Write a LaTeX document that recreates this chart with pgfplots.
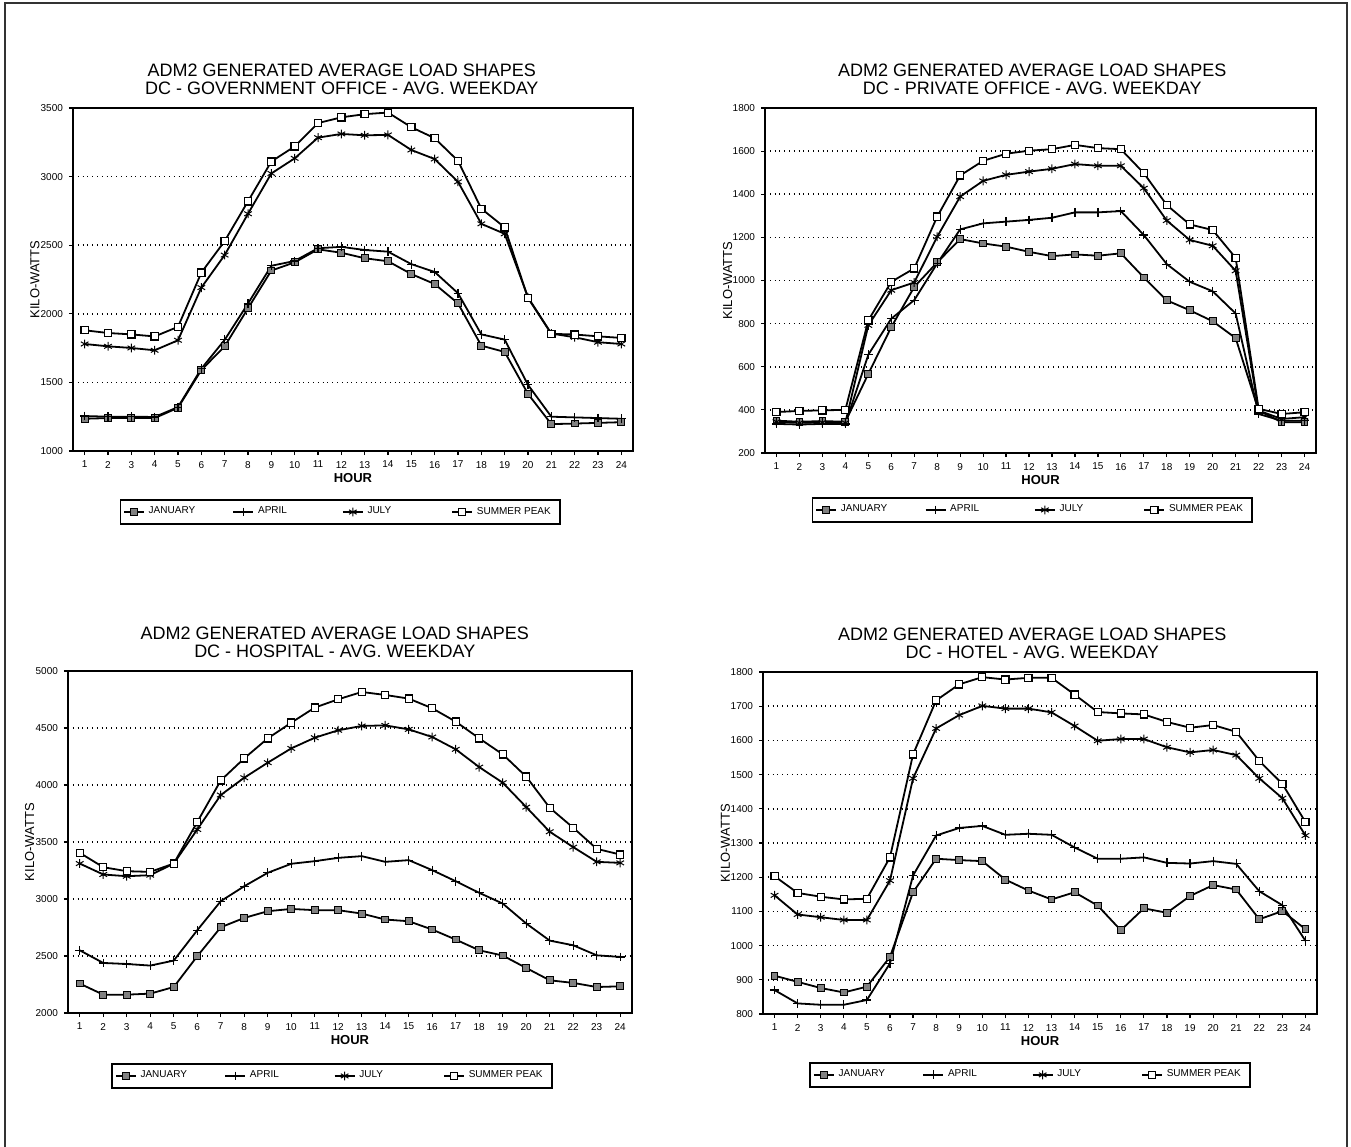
\documentclass[border=0pt]{standalone}
\usepackage{fontspec}
\setmainfont{Liberation Sans}
\usepackage{pgfplots}
\usepackage{pgfplotstable}
\pgfplotsset{compat=1.18}

\pgfplotstableread{
h jan apr jul sum
1 1235 1255 1780 1880
2 1240 1250 1763 1860
3 1240 1250 1751 1850
4 1240 1248 1734 1835
5 1315 1320 1807 1905
6 1590 1600 2191 2300
7 1763 1810 2428 2530
8 2040 2075 2729 2820
9 2315 2350 3023 3110
10 2375 2385 3133 3220
11 2470 2478 3284 3390
12 2445 2488 3311 3432
13 2405 2465 3301 3455
14 2383 2453 3304 3467
15 2290 2362 3194 3360
16 2217 2305 3128 3280
17 2076 2150 2962 3115
18 1768 1850 2656 2766
19 1722 1812 2583 2630
20 1416 1482 2120 2115
21 1196 1250 1856 1854
22 1200 1245 1829 1849
23 1205 1240 1793 1836
24 1210 1235 1780 1824
}\govt

\pgfplotstableread{
h jan apr jul sum
1 350 335 345 390
2 345 332 340 395
3 348 335 342 398
4 345 335 340 400
5 567 656 792 815
6 784 823 955 994
7 970 909 991 1056
8 1084 1079 1203 1296
9 1192 1237 1389 1487
10 1172 1265 1462 1555
11 1157 1273 1490 1588
12 1133 1281 1505 1602
13 1113 1291 1518 1609
14 1121 1316 1540 1629
15 1115 1316 1532 1614
16 1126 1322 1532 1609
17 1014 1211 1428 1498
18 908 1076 1278 1350
19 862 994 1188 1260
20 811 950 1161 1234
21 733 847 1045 1105
22 397 381 397 405
23 343 350 358 381
24 343 350 366 389
}\priv

\pgfplotstableread{
h jan apr jul sum
1 2258 2550 3311 3405
2 2161 2439 3215 3279
3 2161 2430 3200 3244
4 2170 2416 3209 3238
5 2228 2460 3311 3311
6 2498 2726 3610 3675
7 2752 2981 3912 4040
8 2834 3112 4064 4234
9 2893 3230 4196 4409
10 2913 3309 4321 4547
11 2902 3332 4415 4679
12 2902 3361 4480 4752
13 2872 3376 4518 4816
14 2820 3326 4523 4790
15 2805 3341 4488 4758
16 2732 3253 4421 4673
17 2644 3156 4313 4556
18 2550 3054 4157 4409
19 2504 2960 4020 4269
20 2395 2785 3806 4073
21 2287 2635 3590 3800
22 2264 2594 3455 3625
23 2228 2506 3326 3440
24 2234 2492 3317 3390
}\hosp

\pgfplotstableread{
h jan apr jul sum
1 912 870 1147 1203
2 894 831 1091 1154
3 876 827 1083 1143
4 863 827 1075 1135
5 880 841 1075 1137
6 967 948 1190 1258
7 1156 1205 1489 1559
8 1254 1322 1635 1717
9 1250 1344 1674 1764
10 1247 1350 1701 1785
11 1193 1324 1693 1778
12 1161 1327 1693 1783
13 1135 1324 1682 1783
14 1156 1287 1642 1734
15 1117 1254 1599 1683
16 1045 1254 1604 1679
17 1109 1258 1604 1676
18 1096 1242 1580 1654
19 1145 1240 1565 1637
20 1177 1247 1572 1645
21 1164 1239 1557 1625
22 1077 1159 1489 1540
23 1101 1118 1431 1473
24 1048 1014 1322 1361
}\hotel

\pgfplotsset{
  loadaxis/.style={
    scale only axis,
    xmin=0.5, xmax=24.5,
    xtick={1,...,24},
    xtick pos=left, ytick pos=left,
    tick align=outside,
    major tick length=2pt,
    tick style={black, line width=0.6pt},
    axis line style={line width=0.9pt},
    ymajorgrids,
    grid style={dotted, line width=0.8pt, black},
    /pgf/number format/assume math mode=true,
    /pgf/number format/1000 sep={},
    tick label style={font=\fontsize{5}{6}\selectfont},
    xticklabel style={yshift=0.5pt},
    yticklabel style={xshift=0.5pt},
    xlabel={HOUR},
    ylabel={KILO-WATTS},
    xlabel style={font=\fontsize{6.5}{7}\selectfont\bfseries, at={(axis description cs:0.5,0)}, anchor=center, yshift=-13.5pt},
    ylabel style={font=\fontsize{6.5}{7}\selectfont, at={(axis description cs:-0.068,0.5)}, anchor=center},
    title style={align=center, font=\fontsize{9}{9.2}\selectfont, anchor=south, inner sep=0pt, yshift=0.5pt},
    legend columns=4,
    legend style={draw=black, line width=0.8pt, font=\fontsize{5}{6}\selectfont, inner sep=1.5pt,
      anchor=center, /tikz/every even column/.append style={column sep=2pt}},
    legend image code/.code={\draw[mark repeat=2,mark phase=2,line width=0.7pt] plot coordinates {(0pt,0pt) (5pt,0pt) (10pt,0pt)};},
  },
  janst/.style={black, line width=0.9pt, mark=square*, mark size=1.7pt, mark options={fill=gray, draw=black, line width=0.5pt, solid}},
  aprst/.style={black, line width=0.9pt, mark=+, mark size=2.2pt, mark options={line width=0.6pt, solid}},
  julst/.style={black, line width=0.9pt, mark=asterisk, mark size=2.2pt, mark options={line width=0.5pt, solid}},
  sumst/.style={black, line width=0.9pt, mark=square*, mark size=1.8pt, mark options={fill=white, draw=black, line width=0.6pt, solid}},
}

\newcommand{\allplots}[1]{%
  \addplot[janst] table[x=h,y=jan]{#1};
  \addlegendentry{\makebox[38pt][l]{JANUARY}}
  \addplot[aprst] table[x=h,y=apr]{#1};
  \addlegendentry{\makebox[38pt][l]{APRIL}}
  \addplot[julst] table[x=h,y=jul]{#1};
  \addlegendentry{\makebox[38pt][l]{JULY}}
  \addplot[sumst] table[x=h,y=sum]{#1};
  \addlegendentry{\makebox[38pt][l]{SUMMER PEAK}}
}

\begin{document}
\begin{tikzpicture}
\useasboundingbox (0,0) rectangle (675.5pt,-573.5pt);
\draw[line width=1pt, black!80] (2.5pt,-573.5pt) -- (2.5pt,-1.5pt) -- (673.5pt,-1.5pt) -- (673.5pt,-573.5pt);

% top-left
\begin{axis}[loadaxis, at={(36.5pt,-54pt)}, anchor=north west,
  width=280pt, height=171.5pt,
  ymin=1000, ymax=3500, ytick={1000,1500,...,3500},
  title={ADM2 GENERATED AVERAGE LOAD SHAPES\\DC - GOVERNMENT OFFICE - AVG. WEEKDAY},
  title style={at={(axis description cs:0.48,1)}},
  legend style={at={(axis description cs:0.477,-0.178)}},
]
\allplots{\govt}
\end{axis}

% top-right
\begin{axis}[loadaxis, at={(382.5pt,-54pt)}, anchor=north west,
  width=275.5pt, height=172.5pt,
  ymin=200, ymax=1800, ytick={200,400,...,1800},
  title={ADM2 GENERATED AVERAGE LOAD SHAPES\\DC - PRIVATE OFFICE - AVG. WEEKDAY},
  title style={at={(axis description cs:0.485,1)}},
  legend style={at={(axis description cs:0.485,-0.165)}},
]
\allplots{\priv}
\end{axis}

% bottom-left
\begin{axis}[loadaxis, at={(34pt,-335.5pt)}, anchor=north west,
  width=282pt, height=171pt,
  ymin=2000, ymax=5000, ytick={2000,2500,...,5000},
  title={ADM2 GENERATED AVERAGE LOAD SHAPES\\DC - HOSPITAL - AVG. WEEKDAY},
  title style={at={(axis description cs:0.473,1)}},
  legend style={at={(axis description cs:0.468,-0.184)}},
]
\allplots{\hosp}
\end{axis}

% bottom-right
\begin{axis}[loadaxis, at={(381.5pt,-336pt)}, anchor=north west,
  width=277pt, height=171pt,
  ymin=800, ymax=1800, ytick={800,900,...,1800},
  title={ADM2 GENERATED AVERAGE LOAD SHAPES\\DC - HOTEL - AVG. WEEKDAY},
  title style={at={(axis description cs:0.486,1)}},
  legend style={at={(axis description cs:0.482,-0.178)}},
]
\allplots{\hotel}
\end{axis}
\end{tikzpicture}
\end{document}
